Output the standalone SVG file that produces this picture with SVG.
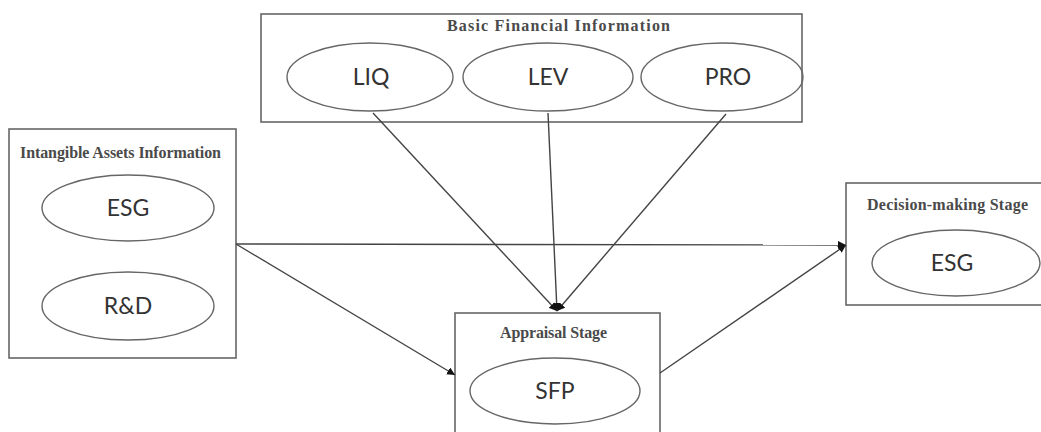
<svg xmlns="http://www.w3.org/2000/svg" width="1041" height="432" viewBox="0 0 1041 432">
<defs>
<style>
.box{fill:#fff;stroke:#666;stroke-width:1.6}
.ell{fill:none;stroke:#666;stroke-width:1.4}
.title{font-family:"Liberation Serif",serif;font-size:16px;font-weight:bold;fill:#4a4a4a}
.lbl{font-family:Lato,"Liberation Sans",sans-serif;font-size:23px;fill:#333;text-anchor:middle}
.conn{stroke:#444;stroke-width:1.4;fill:none;marker-end:url(#ah)}
</style>
<marker id="ah" viewBox="0 0 10 10" refX="10" refY="5" markerWidth="8" markerHeight="8" markerUnits="userSpaceOnUse" orient="auto">
<path d="M0,0 L10,5 L0,10 z" fill="#111"/>
</marker>
</defs>
<rect width="1041" height="432" fill="#fff"/>
<g id="basic-financial">
<rect class="box" x="261" y="14" width="541" height="108"/>
<text class="title" x="447" y="31" textLength="223" lengthAdjust="spacing">Basic Financial  Information</text>
<ellipse class="ell" cx="370" cy="77" rx="83" ry="34"/>
<text class="lbl" x="371" y="85">LIQ</text>
<ellipse class="ell" cx="548" cy="77" rx="85" ry="34"/>
<text class="lbl" x="548" y="85">LEV</text>
<ellipse class="ell" cx="722" cy="77" rx="81" ry="34"/>
<text class="lbl" x="728" y="85">PRO</text>
</g>
<g id="intangible">
<rect class="box" x="9" y="129" width="227" height="229"/>
<text class="title" x="20" y="158" textLength="201" lengthAdjust="spacing">Intangible Assets Information</text>
<ellipse class="ell" cx="128" cy="208" rx="86" ry="33"/>
<text class="lbl" x="128" y="216">ESG</text>
<ellipse class="ell" cx="128" cy="306" rx="86" ry="34"/>
<text class="lbl" x="128" y="314">R&amp;D</text>
</g>
<g id="appraisal">
<rect class="box" x="455" y="313" width="205" height="140"/>
<text class="title" x="500" y="338" textLength="107" lengthAdjust="spacing">Appraisal Stage</text>
<ellipse class="ell" cx="555" cy="391" rx="85" ry="33"/>
<text class="lbl" x="555" y="399">SFP</text>
</g>
<g id="decision">
<rect class="box" x="846" y="183" width="200" height="122"/>
<text class="title" x="867" y="210" textLength="161" lengthAdjust="spacing">Decision-making Stage</text>
<ellipse class="ell" cx="956" cy="263" rx="84" ry="33"/>
<text class="lbl" x="952" y="271">ESG</text>
</g>
<g id="connectors">
<line class="conn" x1="236" y1="244" x2="846" y2="245"/>
<line class="conn" x1="236" y1="244" x2="455" y2="375"/>
<line class="conn" x1="373" y1="113" x2="557" y2="311"/>
<line class="conn" x1="548" y1="113" x2="557" y2="311"/>
<line class="conn" x1="726" y1="114" x2="557" y2="311"/>
<line class="conn" x1="660" y1="373" x2="846" y2="245"/>
</g>
</svg>
